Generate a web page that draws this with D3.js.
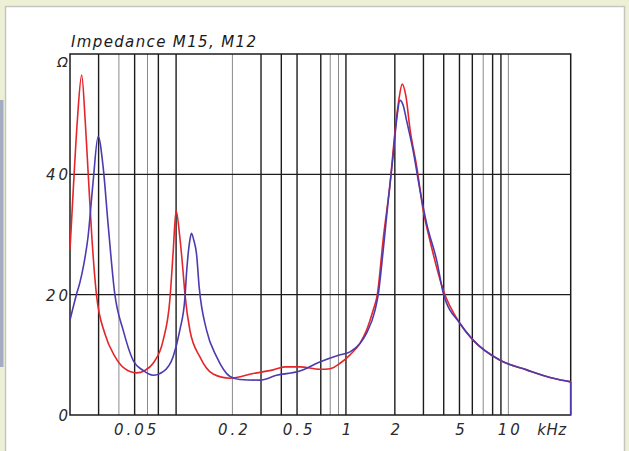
<!DOCTYPE html>
<html><head><meta charset="utf-8">
<script src="https://cdn.jsdelivr.net/npm/d3@7"></script>
<style>body{margin:0;background:#eef0d6;}svg{display:block;}</style>
</head><body>
<script>
// ---- data (frequency in kHz, impedance in ohm) ----
const title = "Impedance M15, M12";
const redFreq = [0.0200,0.0210,0.0222,0.0236,0.0248,0.0259,0.0272,0.0291,0.0328,0.0377,0.0435,0.0513,0.0578,0.0650,0.0749,0.0823,0.0863,0.0900,0.0945,0.0988,0.1021,0.1096,0.1259,0.1521,0.1932,0.2685,0.3566,0.421,0.52,0.69,0.80,0.92,1.06,1.22,1.34,1.47,1.56,1.70,1.87,2.00,2.12,2.22,2.34,2.48,2.73,2.99,3.29,3.98,5.04,6.09,8.89,12.97,18.9,24.2];
const redZ    = [27.5,38,49,56.5,49,40,30,20,13.5,9.8,7.7,7.0,7.4,8.6,12.4,19,27,34,30,24.6,20,14,9.7,6.8,6.1,6.9,7.5,8.0,8.0,7.6,7.7,8.6,10,11.9,14.1,17.4,20,29.5,38.5,46.8,52.5,55,53,47.5,41.2,34,29,20.7,15.2,12.4,9.1,7.5,6.1,5.5];
const blueFreq = [0.0200,0.0219,0.0230,0.0243,0.0258,0.0277,0.0298,0.0320,0.0343,0.0377,0.0425,0.0489,0.0564,0.0650,0.0749,0.0863,0.0949,0.1021,0.1043,0.1093,0.1119,0.1158,0.1202,0.1248,0.1386,0.1597,0.1932,0.2223,0.2953,0.3741,0.52,0.69,0.92,1.06,1.22,1.34,1.51,1.58,1.69,1.81,1.95,2.06,2.15,2.25,2.36,2.59,2.86,3.14,3.62,3.98,5.04,6.09,8.89,12.97,18.9,24.2,24.2];
const blueZ    = [15.8,20,22,25,29.5,38.5,46.3,41.2,31.8,20.2,14.1,9.1,7.4,6.6,7.2,9.7,14.1,19.6,23.5,29,30.2,29,26.8,21.3,14.1,9.7,6.4,5.9,5.8,6.6,7.3,8.8,10,10.5,11.9,13.6,17.4,20,27,35,43,49.5,52.3,51.5,49,44,37.3,31.8,25.7,20.2,15.2,12.4,9.1,7.5,6.1,5.5,0];
const xTickValues = [0.05,0.2,0.5,1,2,5,10];
const xTickLabels = ["0.05","0.2","0.5","1","2","5","10"];
const yTickValues = [0,20,40,60];
const yTickLabels = ["0","20","40","\u03A9"];
const gridDark  = [0.03,0.05,0.07,0.09,0.3,0.4,0.5,0.7,1,2,3,4,5,6,8,9];
const gridLight = [0.04,0.06,0.2,0.8,0.9,7,10];
const xDomain = [0.02,24.2];
const yDomain = [0,60];

// ---- layout ----
const W = 629, H = 451;
const L = 70, R = 570.7, T = 54, B = 415;
const svg = d3.select("body").append("svg").attr("width",W).attr("height",H);
svg.append("rect").attr("width",W).attr("height",H).attr("fill","#eef0d6");
svg.append("rect").attr("x",0).attr("y",100).attr("width",3.5).attr("height",267).attr("fill","#a3acc2");
svg.append("rect").attr("x",5.5).attr("y",6.5).attr("width",619).attr("height",450)
  .attr("fill","#ffffff").attr("stroke","#c4c6c0").attr("stroke-width",1.5);

const x = d3.scaleLog().domain(xDomain).range([L,R]);
const y = d3.scaleLinear().domain(yDomain).range([B,T]);
const font = "'DejaVu Sans', Verdana, sans-serif";

// vertical grid
svg.append("g").selectAll("line").data(gridLight).join("line")
  .attr("x1",d=>x(d)).attr("x2",d=>x(d)).attr("y1",T).attr("y2",B)
  .attr("stroke","#8a8a8a").attr("stroke-width",1);
svg.append("g").selectAll("line").data(gridDark).join("line")
  .attr("x1",d=>x(d)).attr("x2",d=>x(d)).attr("y1",T).attr("y2",B)
  .attr("stroke","#1c1c1c").attr("stroke-width",1.4);
// horizontal grid
svg.append("g").selectAll("line").data([20,40]).join("line")
  .attr("x1",L).attr("x2",R).attr("y1",d=>y(d)).attr("y2",d=>y(d))
  .attr("stroke","#1c1c1c").attr("stroke-width",1.4);
// frame
svg.append("rect").attr("x",L).attr("y",T).attr("width",R-L).attr("height",B-T)
  .attr("fill","none").attr("stroke","#1c1c1c").attr("stroke-width",1.5);

// curves
const line = d3.line().x(d=>x(d[0])).y(d=>y(d[1])).curve(d3.curveMonotoneX);
const lineLin = d3.line().x(d=>x(d[0])).y(d=>y(d[1]));
const redData = redFreq.map((f,i)=>[f,redZ[i]]);
const blueData = blueFreq.map((f,i)=>[f,blueZ[i]]);
svg.append("path").attr("d",line(redData)).attr("fill","none")
  .attr("stroke","#e4262b").attr("stroke-width",1.6);
svg.append("path").attr("d",line(blueData.slice(0,-1))).attr("fill","none")
  .attr("stroke","#4b3bb0").attr("stroke-width",1.6);
svg.append("path").attr("d",lineLin(blueData.slice(-2))).attr("fill","none")
  .attr("stroke","#4b3bb0").attr("stroke-width",1.6);

// x tick labels
const xAxis = d3.axisBottom(x).tickValues(xTickValues).tickFormat((d,i)=>xTickLabels[i]).tickSize(0).tickPadding(0);
const gx = svg.append("g").attr("transform",`translate(1.5,${B+20})`).call(xAxis);
gx.select(".domain").remove();
gx.selectAll("text").attr("font-family",font).attr("font-style","italic")
  .attr("font-size",15).attr("fill","#2a2a2a").attr("letter-spacing","3px").attr("dy","0");
svg.append("text").attr("x",552).attr("y",B+20).attr("text-anchor","middle")
  .attr("font-family",font).attr("font-style","italic").attr("font-size",15)
  .attr("letter-spacing","0.5px").attr("fill","#2a2a2a").text("kHz");

// y tick labels
const yAxis = d3.axisLeft(y).tickValues(yTickValues).tickFormat((d,i)=>yTickLabels[i]).tickSize(0).tickPadding(0);
const gy = svg.append("g").attr("transform",`translate(${L+1},0)`).call(yAxis);
gy.select(".domain").remove();
gy.selectAll("text").attr("font-family",font).attr("font-style","italic")
  .attr("font-size",15).attr("fill","#2a2a2a").attr("letter-spacing","3px")
  .attr("dy","0.36em");
gy.selectAll(".tick").filter(d=>d===60).select("text").attr("dy","0.9em").attr("font-size",14);

// title
svg.append("text").attr("x",71).attr("y",47).attr("font-family",font).attr("font-style","italic")
  .attr("font-size",15).attr("fill","#1a1a1a").attr("textLength",185).attr("lengthAdjust","spacing")
  .text(title);
</script>
</body></html>
